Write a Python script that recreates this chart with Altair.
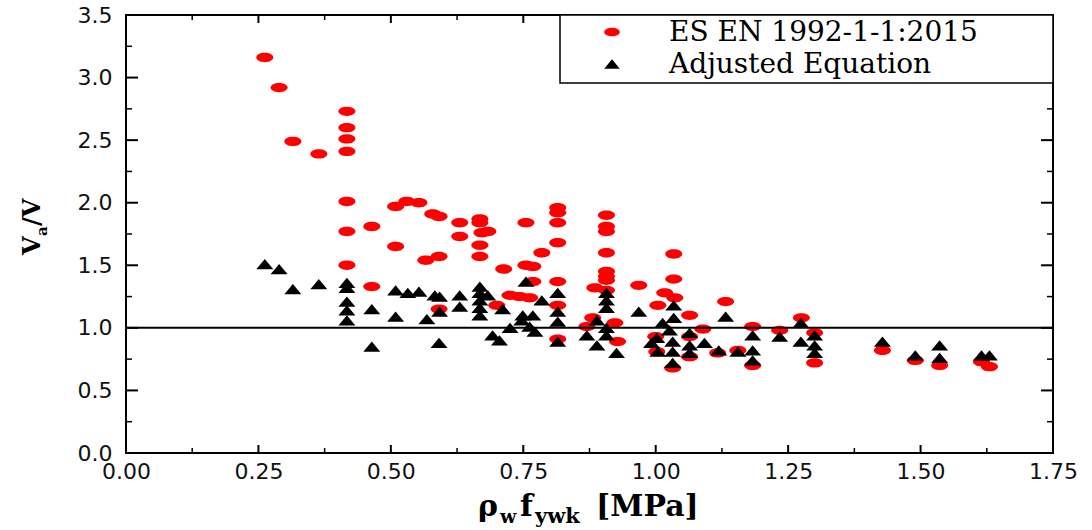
import altair as alt
import pandas as pd

# ---------------- data ----------------
x_ticks = [0.0, 0.25, 0.5, 0.75, 1.0, 1.25, 1.5, 1.75]
x_minor = [0.125, 0.375, 0.625, 0.875, 1.125, 1.375, 1.625]
y_ticks = [0.0, 0.5, 1.0, 1.5, 2.0, 2.5, 3.0, 3.5]
y_minor = [0.25, 0.75, 1.25, 1.75, 2.25, 2.75, 3.25]

series_names = ["ES EN 1992-1-1:2015", "Adjusted Equation"]
series_colors = ["#ff0000", "#000000"]
ref_value = [1.0]

es_x = [0.262, 0.289, 0.315, 0.364,
        0.417, 0.417, 0.417, 0.417, 0.417, 0.417, 0.417,
        0.464, 0.464,
        0.509, 0.509, 0.530, 0.553,
        0.566, 0.579, 0.591, 0.591, 0.591,
        0.630, 0.630,
        0.668, 0.668, 0.672, 0.683, 0.668, 0.668,
        0.700, 0.713, 0.725, 0.743, 0.755, 0.755, 0.762, 0.768, 0.768, 0.785,
        0.815, 0.815, 0.815, 0.815, 0.815, 0.815, 0.815,
        0.870, 0.881, 0.885,
        0.907, 0.907, 0.907, 0.907, 0.907, 0.907, 0.907, 0.907,
        0.923, 0.928, 0.968,
        1.004, 1.017, 1.034, 1.034, 1.036, 1.000, 1.002, 1.032, 1.064, 1.064, 1.064, 1.089,
        1.117, 1.132, 1.155, 1.183, 1.183, 1.234, 1.275, 1.300, 1.300,
        1.428, 1.490, 1.536, 1.615, 1.630]
es_y = [3.16, 2.92, 2.49, 2.39,
        2.73, 2.60, 2.51, 2.41, 2.01, 1.77, 1.50,
        1.81, 1.33,
        1.97, 1.65, 2.01, 2.00,
        1.54, 1.91, 1.89, 1.57, 1.15,
        1.84, 1.73,
        1.87, 1.84, 1.76, 1.77, 1.66, 1.57,
        1.18, 1.47, 1.26, 1.25, 1.84, 1.50, 1.24, 1.49, 1.37, 1.60,
        1.96, 1.92, 1.84, 1.68, 1.37, 1.18, 0.91,
        1.01, 1.08, 1.32,
        1.90, 1.81, 1.77, 1.60, 1.45, 1.41, 1.38, 1.30,
        1.04, 0.89, 1.34,
        1.18, 1.28, 1.59, 1.39, 1.24, 0.93, 0.81, 0.68, 1.10, 0.93, 0.77, 0.99,
        0.80, 1.21, 0.82, 1.01, 0.70, 0.98, 1.08, 0.96, 0.72,
        0.82, 0.74, 0.70, 0.73, 0.69]

adj_x = [0.262, 0.289, 0.315, 0.364,
         0.417, 0.417, 0.417, 0.417, 0.417,
         0.464, 0.464,
         0.509, 0.509, 0.532, 0.553, 0.568, 0.583, 0.592, 0.592, 0.591,
         0.630, 0.630,
         0.668, 0.668, 0.668, 0.668, 0.668, 0.683,
         0.692, 0.705, 0.711, 0.725,
         0.747, 0.749, 0.755, 0.762, 0.768, 0.772, 0.785,
         0.815, 0.815, 0.815, 0.815,
         0.870, 0.889, 0.889, 0.907, 0.907, 0.907, 0.907, 0.907, 0.926, 0.968,
         0.992, 1.002, 1.004, 1.013, 1.026, 1.032, 1.032, 1.032, 1.034, 1.034,
         1.064, 1.064, 1.064, 1.092, 1.119, 1.132, 1.155,
         1.183, 1.183, 1.183, 1.234, 1.274, 1.274, 1.300, 1.300, 1.300,
         1.428, 1.490, 1.536, 1.536, 1.615, 1.630]
adj_y = [1.51, 1.47, 1.31, 1.35,
         1.36, 1.32, 1.21, 1.14, 1.06,
         1.15, 0.85,
         1.30, 1.09, 1.28, 1.29, 1.07, 1.26, 1.25, 1.13, 0.88,
         1.26, 1.17,
         1.33, 1.28, 1.22, 1.16, 1.10, 1.26,
         0.94, 0.90, 1.15, 1.00,
         1.06, 1.10, 1.37, 1.01, 1.10, 0.97, 1.22,
         1.28, 1.13, 1.05, 0.89,
         0.94, 1.06, 0.86, 1.28, 1.22, 1.16, 1.00, 0.94, 0.80, 1.13,
         0.88, 0.92, 0.81, 1.04, 0.98, 0.89, 0.81, 0.72, 1.18, 1.08,
         0.96, 0.86, 0.80, 0.88, 0.82, 1.09, 0.81,
         0.94, 0.82, 0.74, 0.93, 1.04, 0.89, 0.94, 0.86, 0.80,
         0.89, 0.78, 0.86, 0.76, 0.78, 0.78]

# ---------------- styling ----------------
W, H = 927, 438
ELLIPSE = ("M-1,0 C-1,-0.3038 -0.5523,-0.55 0,-0.55 C0.5523,-0.55 1,-0.3038 1,0 "
           "C1,0.3038 0.5523,0.55 0,0.55 C-0.5523,0.55 -1,0.3038 -1,0 Z")
TRIANGLE = "M0,-0.6 L1,0.6 L-1,0.6 Z"
MSIZE = 289

xscale = alt.Scale(domain=[0, 1.75], nice=False, zero=False)
yscale = alt.Scale(domain=[0, 3.5], nice=False, zero=False)
xaxis = alt.Axis(title=None, values=x_ticks, format=".2f", labelFont="DejaVu Sans",
                 labelFontSize=22, labelColor="#111", labelPadding=8, ticks=False,
                 domain=False, grid=False, labelFlush=False, labelOverlap=False)
yaxis = alt.Axis(title=None, values=y_ticks, format=".1f", labelFont="DejaVu Sans",
                 labelFontSize=22, labelColor="#111", labelPadding=14, ticks=False,
                 domain=False, grid=False, labelFlush=False, labelOverlap=False)


def X(f):
    return alt.X(f + ":Q", scale=xscale, axis=xaxis)


def Y(f):
    return alt.Y(f + ":Q", scale=yscale, axis=yaxis)


one = alt.Data(values=[{}])
layers = []

# inward ticks on all four sides
xt = pd.DataFrame({"x": x_ticks})
xm = pd.DataFrame({"x": x_minor})
yt = pd.DataFrame({"y": y_ticks})
ym = pd.DataFrame({"y": y_minor})
for df, ln, sw in [(xt, 8, 2), (xm, 5, 1.5)]:
    layers.append(alt.Chart(df).mark_rule(color="black", strokeWidth=sw).encode(
        x=X("x"), y=alt.value(H), y2=alt.value(H - ln)))
    layers.append(alt.Chart(df).mark_rule(color="black", strokeWidth=sw).encode(
        x=X("x"), y=alt.value(0), y2=alt.value(ln)))
for df, ln, sw in [(yt, 12, 2), (ym, 6, 1.5)]:
    layers.append(alt.Chart(df).mark_rule(color="black", strokeWidth=sw).encode(
        y=Y("y"), x=alt.value(0), x2=alt.value(ln)))
    layers.append(alt.Chart(df).mark_rule(color="black", strokeWidth=sw).encode(
        y=Y("y"), x=alt.value(W), x2=alt.value(W - ln)))

es_df = pd.DataFrame({"x": es_x, "y": es_y})
adj_df = pd.DataFrame({"x": adj_x, "y": adj_y})

layers.append(alt.Chart(es_df).mark_point(shape=ELLIPSE, filled=True, size=MSIZE,
                                          color=series_colors[0], opacity=1, strokeWidth=0)
              .encode(x=X("x"), y=Y("y")))
layers.append(alt.Chart(pd.DataFrame({"y": ref_value})).mark_rule(color="black", strokeWidth=2)
              .encode(y=Y("y")))
layers.append(alt.Chart(adj_df).mark_point(shape=TRIANGLE, filled=True, size=MSIZE,
                                           color=series_colors[1], opacity=1, strokeWidth=0)
              .encode(x=X("x"), y=Y("y")))

# legend box
LX0, LY1 = 434, 68
layers.append(alt.Chart(one).mark_rect(fill="white", stroke="black", strokeWidth=1.5).encode(
    x=alt.value(LX0), x2=alt.value(W), y=alt.value(0), y2=alt.value(LY1)))
for i, (name, col, shp) in enumerate(zip(series_names, series_colors, [ELLIPSE, TRIANGLE])):
    yy = 17 + 32 * i
    layers.append(alt.Chart(one).mark_point(shape=shp, filled=True, size=MSIZE * 0.85, color=col,
                                            opacity=1, strokeWidth=0)
                  .encode(x=alt.value(486), y=alt.value(yy)))
    layers.append(alt.Chart(one).mark_text(align="left", baseline="middle", font="DejaVu Serif",
                                           fontSize=28, color="black")
                  .encode(x=alt.value(543), y=alt.value(yy + 1), text=alt.value(name)))

# x title: rho_w f_ywk [MPa]
xt_parts = [("\u03c1", 352, 501, 30), ("w", 374, 508, 19), ("f", 394, 501, 30),
            ("ywk", 409, 508, 21), ("[MPa]", 470, 501, 30)]
for txt, px, py, fs in xt_parts:
    layers.append(alt.Chart(one).mark_text(align="left", baseline="alphabetic",
                                           font="DejaVu Serif", fontWeight="bold",
                                           fontSize=fs, color="black")
                  .encode(x=alt.value(px), y=alt.value(py), text=alt.value(txt)))

# y title: V_a/V (rotated)
yt_parts = [("V", -86, 240, 24), ("a", -79, 221, 15), ("/V", -86, 211, 24)]
for txt, px, py, fs in yt_parts:
    layers.append(alt.Chart(one).mark_text(align="left", baseline="alphabetic", angle=270,
                                           font="DejaVu Serif", fontWeight="bold",
                                           fontSize=fs, color="black")
                  .encode(x=alt.value(px), y=alt.value(py), text=alt.value(txt)))

chart = alt.layer(*layers).properties(
    width=W, height=H,
    autosize=alt.AutoSizeParams(type="none"),
    padding={"left": 126, "top": 15, "right": 39, "bottom": 77},
    background="white",
).configure_view(stroke="black", strokeWidth=2)

chart.save("out.html", embed_options={"renderer": "svg", "actions": False})
